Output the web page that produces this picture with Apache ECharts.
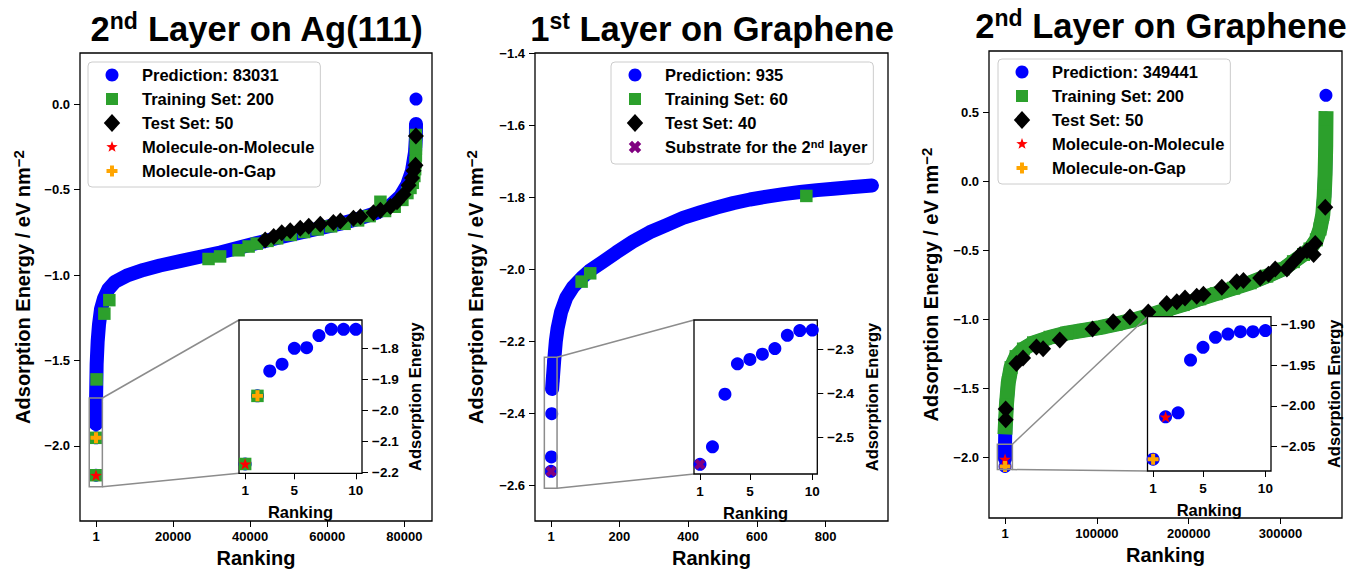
<!DOCTYPE html>
<html lang="en">
<head>
<meta charset="utf-8">
<title>Adsorption energy ranking</title>
<script src="https://cdn.jsdelivr.net/npm/echarts@6.0.0/dist/echarts.min.js"></script>
<style>
  html, body { margin: 0; padding: 0; background: #ffffff; }
  #chart { width: 1350px; height: 571px; }
</style>
</head>
<body>
<div id="chart"></div>
<script>
// ===== Panel A: 2nd layer on Ag(111) =====
const agTitle = ['2', 'nd', ' Layer on Ag(111)'];
const agNames = ['Prediction: 83031', 'Training Set: 200', 'Test Set: 50', 'Molecule-on-Molecule', 'Molecule-on-Gap'];
const agTop10 = [-2.172, -1.953, -1.873, -1.851, -1.800, -1.798, -1.759, -1.739, -1.739, -1.739];
const agCurve = [[3, -1.873], [10, -1.739], [170, -1.52], [430, -1.39], [780, -1.29], [1300, -1.20], [2080, -1.137],
  [3200, -1.083], [4900, -1.04], [7950, -1.004], [12300, -0.970], [16600, -0.944], [21800, -0.919], [27000, -0.893],
  [32200, -0.868], [37400, -0.838], [42600, -0.808], [47800, -0.778], [53000, -0.752], [58200, -0.726], [63400, -0.699],
  [68600, -0.667], [72900, -0.635], [76400, -0.592], [79000, -0.538], [80700, -0.474], [82000, -0.389], [82770, -0.282],
  [83000, -0.197], [83031, -0.115]];
const agPredExtra = [[83031, 0.03]];
const agTrain = [[1, -2.172], [2, -1.953], [150, -1.611], [2170, -1.226], [3460, -1.147], [29200, -0.906], [32200, -0.891],
  [37000, -0.855], [39600, -0.833], [41700, -0.816], [44500, -0.80], [47000, -0.785], [50500, -0.765], [54000, -0.748],
  [57500, -0.733], [61000, -0.715], [64500, -0.70], [68000, -0.68], [71000, -0.655], [73800, -0.571], [75000, -0.625],
  [77500, -0.60], [79500, -0.56], [80800, -0.52], [81600, -0.49], [82200, -0.46], [82600, -0.42], [82800, -0.38],
  [82900, -0.34], [83000, -0.30], [83000, -0.26], [83000, -0.22], [83000, -0.18]];
const agTest = [[43900, -0.795], [46100, -0.774], [48200, -0.752], [50400, -0.741], [53000, -0.726], [55200, -0.714],
  [58200, -0.703], [61600, -0.692], [63400, -0.684], [66800, -0.667], [68600, -0.658], [72000, -0.635], [73800, -0.620],
  [76400, -0.598], [78100, -0.571], [79800, -0.528], [81100, -0.474], [82000, -0.432], [82400, -0.389], [82900, -0.357],
  [83000, -0.186]];
const agMolOnMol = [[1, -2.172]];
const agMolOnGap = [[2, -1.953]];
const agXTicks = [1, 20000, 40000, 60000, 80000];
const agYTicks = [-2.0, -1.5, -1.0, -0.5, 0.0];
const agInsetYTicks = [-2.2, -2.1, -2.0, -1.9, -1.8];

// ===== Panel B: 1st layer on graphene =====
const g1Title = ['1', 'st', ' Layer on Graphene'];
const g1Names = ['Prediction: 935', 'Training Set: 60', 'Test Set: 40', 'Substrate for the 2nd layer'];
const g1Top10 = [-2.562, -2.522, -2.402, -2.333, -2.323, -2.311, -2.298, -2.268, -2.257, -2.256];
const g1Curve = [[4, -2.333], [10, -2.256], [15, -2.20], [20, -2.165], [30, -2.12], [45, -2.08], [65, -2.05], [90, -2.025],
  [113, -2.005], [152, -1.98], [191, -1.954], [239, -1.924], [288, -1.898], [337, -1.878], [385, -1.858], [434, -1.843],
  [483, -1.829], [531, -1.817], [580, -1.807], [629, -1.799], [677, -1.792], [726, -1.786], [775, -1.781], [823, -1.777],
  [872, -1.773], [935, -1.768]];
const g1Train = [[90, -2.035], [115, -2.012], [744, -1.797]];
const g1Test = [];
const g1Substrate = [[1, -2.562]];
const g1XTicks = [1, 200, 400, 600, 800];
const g1YTicks = [-2.6, -2.4, -2.2, -2.0, -1.8, -1.6, -1.4];
const g1InsetYTicks = [-2.5, -2.4, -2.3];

// ===== Panel C: 2nd layer on graphene =====
const g2Title = ['2', 'nd', ' Layer on Graphene'];
const g2Names = ['Prediction: 349441', 'Training Set: 200', 'Test Set: 50', 'Molecule-on-Molecule', 'Molecule-on-Gap'];
const g2Top10 = [-2.066, -2.0136, -2.0086, -1.9434, -1.9277, -1.9153, -1.9112, -1.9083, -1.9083, -1.907];
const g2Curve = [[3, -2.009], [10, -1.907], [300, -1.78], [1500, -1.62], [3500, -1.46], [6500, -1.35], [12000, -1.27],
  [20000, -1.215], [31000, -1.17], [49000, -1.13], [67000, -1.10], [85000, -1.08], [103000, -1.06], [121000, -1.035],
  [139000, -1.006], [158000, -0.970], [176000, -0.930], [194000, -0.893], [212000, -0.851], [230000, -0.814],
  [249000, -0.774], [267000, -0.735], [285000, -0.687], [303000, -0.635], [314000, -0.582], [325000, -0.530],
  [332000, -0.490], [339000, -0.424], [343000, -0.345], [346000, -0.240], [347500, -0.108], [348500, 0.05],
  [349200, 0.26], [349441, 0.455]];
const g2PredExtra = [[349441, 0.624]];
const g2Train = [[300, -1.78], [1500, -1.62], [3500, -1.46], [6500, -1.35], [12000, -1.27], [20000, -1.215],
  [31000, -1.17], [49000, -1.13], [67000, -1.10], [85000, -1.08], [103000, -1.06], [121000, -1.035], [139000, -1.006],
  [158000, -0.970], [176000, -0.930], [194000, -0.893], [212000, -0.851], [230000, -0.814], [249000, -0.774],
  [267000, -0.735], [285000, -0.687], [303000, -0.635], [314000, -0.582], [325000, -0.530], [332000, -0.490],
  [339000, -0.424], [343000, -0.345], [346000, -0.240], [347500, -0.108], [348500, 0.05], [349200, 0.26], [349441, 0.455]];
const g2Test = [[700, -1.65], [700, -1.728], [12360, -1.32], [19600, -1.28], [34200, -1.20], [41450, -1.214],
  [59600, -1.149], [95260, -1.07], [117800, -1.017], [136000, -0.983], [156000, -0.946], [176000, -0.885],
  [187000, -0.872], [196000, -0.846], [208700, -0.832], [216000, -0.819], [236000, -0.767], [252300, -0.727],
  [259600, -0.719], [277800, -0.70], [286900, -0.674], [294200, -0.635], [306900, -0.635], [314200, -0.582],
  [321400, -0.53], [328700, -0.503], [337800, -0.45], [336000, -0.53], [348700, -0.187]];
const g2MolOnMol = [[2, -2.0136]];
const g2MolOnGap = [[1, -2.066]];
const g2XTicks = [1, 100000, 200000, 300000];
const g2YTicks = [-2.0, -1.5, -1.0, -0.5, 0.0, 0.5];
const g2InsetYTicks = [-2.05, -2.00, -1.95, -1.90];

const insetXTicks = [1, 5, 10];

// ===== layout: plot areas, axis ranges, zoom boxes =====
const panels = [
  { main: { left: 80, top: 53, width: 352, height: 468 }, inset: { left: 239, top: 320, width: 123, height: 153.3 },
    x: [-4150, 87182], y: [-2.44, 0.30], ix: [0.5, 10.5], iy: [-2.202, -1.709],
    box: { x: [-1750, 1650], y: [-2.24, -1.72] }, titleX: 257, titleY: 9, yGap: 45, iyGap: 44, legend: [88, 62] },
  { main: { left: 535, top: 53, width: 353, height: 468 }, inset: { left: 694, top: 320, width: 123.3, height: 154 },
    x: [-45.7, 981.7], y: [-2.7, -1.4], ix: [0.52, 10.4], iy: [-2.584, -2.233],
    box: { x: [-18.5, 18.5], y: [-2.609, -2.245] }, titleX: 712, titleY: 9, yGap: 47, iyGap: 46, legend: [611, 62] },
  { main: { left: 989, top: 51, width: 353, height: 467 }, inset: { left: 1147.5, top: 316.7, width: 123.5, height: 154.3 },
    x: [-17471, 366912], y: [-2.44, 0.945], ix: [0.55, 10.45], iy: [-2.0806, -1.8898],
    box: { x: [-8360, 8000], y: [-2.089, -1.905] }, titleX: 1161, titleY: 6, yGap: 46, iyGap: 54, legend: [998, 59] }
];

const FONT = "'Liberation Sans', Arial, sans-serif";
const BLUE = '#0000ff', GREEN = '#2ca02c', BLACK = '#000000', RED = '#ff0000',
      ORANGE = '#ffa500', PURPLE = '#800080', GREY = '#8c8c8c';

// ----- marker outlines -----
function poly(pts) {
  return pts.map((p, i) => (i ? 'L' : 'M') + p[0].toFixed(2) + ',' + p[1].toFixed(2)).join(' ') + ' Z';
}
function circ(cx, cy, r) {
  const k = 0.5523 * r;
  return `M${cx + r},${cy} C${cx + r},${cy + k} ${cx + k},${cy + r} ${cx},${cy + r} ` +
         `C${cx - k},${cy + r} ${cx - r},${cy + k} ${cx - r},${cy} ` +
         `C${cx - r},${cy - k} ${cx - k},${cy - r} ${cx},${cy - r} ` +
         `C${cx + k},${cy - r} ${cx + r},${cy - k} ${cx + r},${cy} Z`;
}
function sq(cx, cy, h) { return poly([[cx - h, cy - h], [cx + h, cy - h], [cx + h, cy + h], [cx - h, cy + h]]); }
function dia(cx, cy, hw, hh) { return poly([[cx, cy - hh], [cx + hw, cy], [cx, cy + hh], [cx - hw, cy]]); }
function star(cx, cy, R) {
  const pts = [];
  for (let k = 0; k < 10; k++) {
    const a = -Math.PI / 2 + k * Math.PI / 5, r = k % 2 ? R * 0.4 : R;
    pts.push([cx + r * Math.cos(a), cy + r * Math.sin(a)]);
  }
  return poly(pts);
}
function plus(cx, cy, h, rot) {
  const t = h * 0.36;
  const base = [[-t, -h], [t, -h], [t, -t], [h, -t], [h, t], [t, t], [t, h], [-t, h], [-t, t], [-h, t], [-h, -t], [-t, -t]];
  const c = Math.cos(rot), s = Math.sin(rot);
  return poly(base.map(([x, y]) => [cx + x * c - y * s, cy + x * s + y * c]));
}
const SYM = {
  star: 'path://' + star(10, 10, 10),
  plus: 'path://' + plus(10, 10, 10, 0),
  cross: 'path://' + plus(10, 10, 10, Math.PI / 4)
};
const LBOX = 'path://M0,0 M45,18 ';
const ICON = {
  circle: LBOX + circ(20, 9, 6.5),
  square: LBOX + sq(20, 9, 6),
  diamond: LBOX + dia(20, 9, 8.2, 9),
  star: LBOX + star(20, 9, 6),
  plus: LBOX + plus(20, 9, 5.5, 0),
  cross: LBOX + plus(20, 9, 6.5, Math.PI / 4)
};

// ----- axes -----
function fmt(dec) { return v => (v < 0 ? '\u2212' : '') + Math.abs(v).toFixed(dec); }
const tickLine = { color: BLACK, width: 1 };
const boldText = (size) => ({ fontFamily: FONT, fontWeight: 'bold', fontSize: size, color: BLACK });

function mainX(g, p, ticks) {
  return {
    type: 'value', gridIndex: g, min: p.x[0], max: p.x[1],
    name: 'Ranking', nameLocation: 'middle', nameGap: 25, nameTextStyle: boldText(20),
    axisLine: { show: false, onZero: false }, splitLine: { show: false },
    axisTick: { show: true, length: 6, lineStyle: tickLine, customValues: ticks },
    axisLabel: Object.assign({ show: true, customValues: ticks, margin: 9, formatter: v => String(v) }, boldText(13))
  };
}
function mainY(g, p, ticks) {
  return {
    type: 'value', gridIndex: g, min: p.y[0], max: p.y[1],
    name: 'Adsorption Energy / eV nm{s|\u22122}', nameLocation: 'middle', nameRotate: 90, nameGap: p.yGap,
    nameTextStyle: Object.assign(boldText(20), { lineHeight: 24,
      rich: { s: Object.assign(boldText(15), { verticalAlign: 'top', lineHeight: 15 }) } }),
    axisLine: { show: false, onZero: false }, splitLine: { show: false },
    axisTick: { show: true, length: 6, lineStyle: tickLine, customValues: ticks },
    axisLabel: Object.assign({ show: true, customValues: ticks, margin: 10, formatter: fmt(1) }, boldText(13))
  };
}
function insetX(g, p) {
  return {
    type: 'value', gridIndex: g, min: p.ix[0], max: p.ix[1], position: 'bottom', z: 11,
    name: 'Ranking', nameLocation: 'middle', nameGap: 30, nameTextStyle: boldText(16.5),
    axisLine: { show: false, onZero: false }, splitLine: { show: false },
    axisTick: { show: true, length: 6, lineStyle: tickLine, customValues: insetXTicks },
    axisLabel: Object.assign({ show: true, customValues: insetXTicks, margin: 10, formatter: v => String(v) }, boldText(13.5))
  };
}
function insetY(g, p, ticks, dec) {
  return {
    type: 'value', gridIndex: g, min: p.iy[0], max: p.iy[1], position: 'right', z: 11,
    name: 'Adsorption Energy', nameLocation: 'middle', nameRotate: 90, nameGap: p.iyGap, nameTextStyle: boldText(16.5),
    axisLine: { show: false, onZero: false }, splitLine: { show: false },
    axisTick: { show: true, length: 6, lineStyle: tickLine, customValues: ticks },
    axisLabel: Object.assign({ show: true, customValues: ticks, margin: 10, formatter: fmt(dec) }, boldText(13.5))
  };
}

// ----- series -----
const series = [];
function sc(name, g, data, symbol, size, color, z) {
  series.push({
    type: 'scatter', name, xAxisIndex: g, yAxisIndex: g, data, symbol, symbolSize: size, symbolKeepAspect: true,
    itemStyle: { color, opacity: 1, borderWidth: 0 }, z, silent: true, emphasis: { disabled: true }
  });
}
function band(name, g, data, color, width, cap, z) {
  series.push({
    type: 'line', name, xAxisIndex: g, yAxisIndex: g, data, symbol: 'none', showSymbol: false,
    lineStyle: { color, width, cap, join: 'round' }, z, silent: true, emphasis: { disabled: true }
  });
}
const ranked = arr => arr.map((v, i) => [i + 1, v]);
const upTo10 = arr => arr.filter(d => d[0] <= 10);

// Panel A
sc(agNames[0], 0, ranked(agTop10).concat(agPredExtra), 'circle', 13, BLUE, 3);
band(agNames[0], 0, agCurve, BLUE, 14, 'round', 2);
sc(agNames[1], 0, agTrain, 'rect', 12.5, GREEN, 4);
sc(agNames[2], 0, agTest, 'diamond', [16, 17], BLACK, 5);
sc(agNames[3], 0, agMolOnMol, SYM.star, 12, RED, 6);
sc(agNames[4], 0, agMolOnGap, SYM.plus, 11, ORANGE, 6);
sc(agNames[0], 1, ranked(agTop10), 'circle', 13, BLUE, 12);
sc(agNames[1], 1, upTo10(agTrain), 'rect', 12.5, GREEN, 13);
sc(agNames[3], 1, agMolOnMol, SYM.star, 12, RED, 14);
sc(agNames[4], 1, agMolOnGap, SYM.plus, 11, ORANGE, 14);

// Panel B
sc(g1Names[0], 2, ranked(g1Top10), 'circle', 13, BLUE, 3);
band(g1Names[0], 2, g1Curve, BLUE, 14, 'round', 2);
sc(g1Names[1], 2, g1Train, 'rect', 12.5, GREEN, 4);
sc(g1Names[2], 2, g1Test, 'diamond', [16, 17], BLACK, 5);
sc(g1Names[3], 2, g1Substrate, SYM.cross, 11, PURPLE, 6);
sc(g1Names[0], 3, ranked(g1Top10), 'circle', 13, BLUE, 12);
sc(g1Names[3], 3, g1Substrate, SYM.cross, 11, PURPLE, 14);

// Panel C
sc(g2Names[0], 4, ranked(g2Top10).concat(g2PredExtra), 'circle', 13, BLUE, 3);
band(g2Names[0], 4, g2Curve, BLUE, 14, 'round', 2);
sc(g2Names[1], 4, g2Train, 'rect', 13, GREEN, 4);
band(g2Names[1], 4, g2Train, GREEN, 15, 'square', 4);
sc(g2Names[2], 4, g2Test, 'diamond', [16, 17], BLACK, 5);
sc(g2Names[3], 4, g2MolOnMol, SYM.star, 12, RED, 6);
sc(g2Names[4], 4, g2MolOnGap, SYM.plus, 11, ORANGE, 6);
sc(g2Names[0], 5, ranked(g2Top10), 'circle', 13, BLUE, 12);
sc(g2Names[3], 5, g2MolOnMol, SYM.star, 12, RED, 14);
sc(g2Names[4], 5, g2MolOnGap, SYM.plus, 11, ORANGE, 14);

// ----- legends -----
function legendFor(p, names, icons, colors, pad) {
  return {
    show: true, orient: 'vertical', left: p.legend[0], top: p.legend[1], z: 20,
    itemWidth: 45, itemHeight: 18, itemGap: 6, padding: pad, selectedMode: false,
    backgroundColor: 'rgba(255,255,255,0.8)', borderColor: '#cccccc', borderWidth: 1, borderRadius: 4,
    textStyle: Object.assign(boldText(16.5), { lineHeight: 18, rich: { s: Object.assign(boldText(11), { verticalAlign: 'top', lineHeight: 11 }) } }),
    formatter: name => name.replace('2nd', '2{s|nd}'),
    data: names.map((n, i) => ({ name: n, icon: icons[i], itemStyle: { color: colors[i], borderWidth: 0 } }))
  };
}

const grids = [];
panels.forEach(p => {
  grids.push(Object.assign({ show: true, borderColor: BLACK, borderWidth: 1.3, backgroundColor: 'transparent',
    containLabel: false, outerBoundsMode: 'none' }, p.main));
  grids.push(Object.assign({ show: false, containLabel: false, outerBoundsMode: 'none' }, p.inset));
});

const option = {
  animation: false,
  backgroundColor: '#ffffff',
  grid: grids,
  xAxis: [mainX(0, panels[0], agXTicks), insetX(1, panels[0]), mainX(2, panels[1], g1XTicks), insetX(3, panels[1]),
          mainX(4, panels[2], g2XTicks), insetX(5, panels[2])],
  yAxis: [mainY(0, panels[0], agYTicks), insetY(1, panels[0], agInsetYTicks, 1),
          mainY(2, panels[1], g1YTicks), insetY(3, panels[1], g1InsetYTicks, 1),
          mainY(4, panels[2], g2YTicks), insetY(5, panels[2], g2InsetYTicks, 2)],
  legend: [
    legendFor(panels[0], agNames, [ICON.circle, ICON.square, ICON.diamond, ICON.star, ICON.plus],
      [BLUE, GREEN, BLACK, RED, ORANGE], [4, 6, 7, 4]),
    legendFor(panels[1], g1Names, [ICON.circle, ICON.square, ICON.diamond, ICON.cross],
      [BLUE, GREEN, BLACK, PURPLE], [4, 6, 8, 4]),
    legendFor(panels[2], g2Names, [ICON.circle, ICON.square, ICON.diamond, ICON.star, ICON.plus],
      [BLUE, GREEN, BLACK, RED, ORANGE], [4, 6, 7, 4])
  ],
  series
};

const chart = echarts.init(document.getElementById('chart'), null, { renderer: 'svg', width: 1350, height: 571 });
chart.setOption(option);

// ----- titles, zoom boxes, connectors and inset frames (placed through the axes' own scales) -----
const titleTexts = [agTitle, g1Title, g2Title];
const elements = [];
panels.forEach((p, k) => {
  const t = titleTexts[k];
  elements.push({
    type: 'text', x: p.titleX, y: p.titleY, z: 30, silent: true,
    style: {
      text: t[0] + '{s|' + t[1] + '}' + t[2], align: 'center', verticalAlign: 'top',
      fontFamily: FONT, fontWeight: 'bold', fontSize: 34.5, lineHeight: 40, fill: BLACK,
      rich: { s: { fontFamily: FONT, fontWeight: 'bold', fontSize: 23, lineHeight: 25, verticalAlign: 'top', fill: BLACK } }
    }
  });
  const gm = 2 * k, gi = 2 * k + 1;
  const tl = chart.convertToPixel({ gridIndex: gm }, [p.box.x[0], p.box.y[1]]);
  const br = chart.convertToPixel({ gridIndex: gm }, [p.box.x[1], p.box.y[0]]);
  const itl = chart.convertToPixel({ gridIndex: gi }, [p.ix[0], p.iy[1]]);
  const ibr = chart.convertToPixel({ gridIndex: gi }, [p.ix[1], p.iy[0]]);
  const grey = { stroke: GREY, lineWidth: 1.5, fill: 'none' };
  elements.push({ type: 'rect', z: 7, silent: true,
    shape: { x: tl[0], y: tl[1], width: br[0] - tl[0], height: br[1] - tl[1] }, style: grey });
  elements.push({ type: 'line', z: 7, silent: true,
    shape: { x1: br[0], y1: tl[1], x2: itl[0], y2: itl[1] }, style: grey });
  elements.push({ type: 'line', z: 7, silent: true,
    shape: { x1: br[0], y1: br[1], x2: itl[0], y2: ibr[1] }, style: grey });
  elements.push({ type: 'rect', z: 10, silent: true,
    shape: { x: itl[0], y: itl[1], width: ibr[0] - itl[0], height: ibr[1] - itl[1] },
    style: { fill: '#ffffff', stroke: BLACK, lineWidth: 1.3 } });
});
chart.setOption({ graphic: { elements } });
</script>
</body>
</html>
